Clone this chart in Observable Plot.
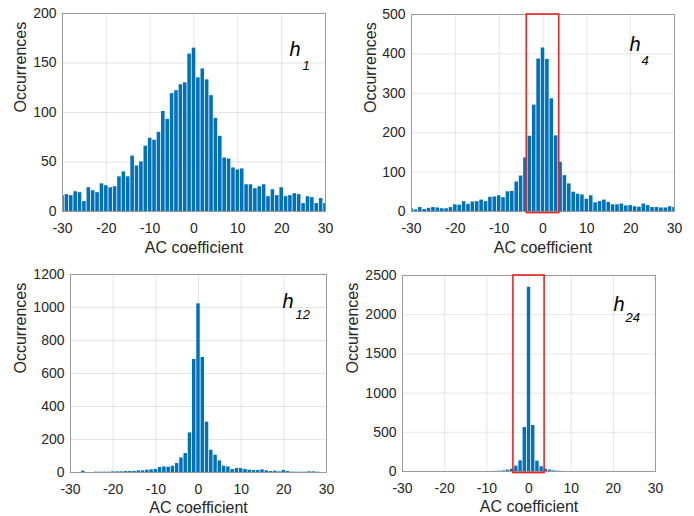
<!DOCTYPE html>
<html><head><meta charset="utf-8">
<script src="https://cdn.jsdelivr.net/npm/d3@7"></script>
<script src="https://cdn.jsdelivr.net/npm/@observablehq/plot@0.6"></script>
<style>
body{margin:0;background:#fff;}
#wrap{position:relative;width:694px;height:516px;overflow:hidden;background:#fff;}
.panel{position:absolute;}
</style></head><body><div id="wrap"></div>
<script>
// ---- data ----
const coefficients = [-30,-29,-28,-27,-26,-25,-24,-23,-22,-21,-20,-19,-18,-17,-16,-15,-14,-13,-12,-11,-10,-9,-8,-7,-6,-5,-4,-3,-2,-1,0,1,2,3,4,5,6,7,8,9,10,11,12,13,14,15,16,17,18,19,20,21,22,23,24,25,26,27,28,29,30];
const h1Counts = [16,17,16,20,19,10,24,21,19,28, 26,24,25,35,40,35,56,46,50,66, 74,72,80,101,93,119,122,128,130,159, 165, 135,144,133,117,94,76,54,53,44,42, 43,27,27,23,25,27,15,22,16,24, 15,16,18,17,8,15,14,8,13,8];
const h4Counts = [7,4,10,5,8,10,9,7,7,10, 17,16,25,18,24,25,29,25,36,37, 40,35,50,51,75,90,136,191,270,387, 415, 386,286,192,125,91,70,49,44,42,31, 40,22,25,29,23,17,17,19,14,15, 12,11,19,15,10,10,9,9,12,10];
const h12Counts = [0,0,0,8,0,0,2,2,2,2, 4,4,4,6,6,6,10,10,14,16, 18,30,34,32,38,55,88,115,240,685, 1022, 697,305,135,105,70,38,34,18,24,24, 18,14,12,12,16,10,6,8,4,12, 6,2,2,2,2,4,4,2,0,0];
const h24Counts = [0,0,0,0,0,0,0,0,0,0, 0,0,0,0,0,0,0,0,0,0, 0,1,2,4,8,17,30,68,136,561, 2350, 587,132,60,30,17,8,4,2,0,0, 0,0,0,0,0,0,0,0,0,0, 0,0,0,0,0,0,0,0,0,0];
const xTicks = [-30,-20,-10,0,10,20,30];
const yTicks1 = [0,50,100,150,200];
const yTicks4 = [0,100,200,300,400,500];
const yTicks12 = [0,200,400,600,800,1000,1200];
const yTicks24 = [0,500,1000,1500,2000,2500];
const highlightRange = [-3.7, 3.7];
const xLabel = "AC coefficient";
const yLabel = "Occurrences";

// ---- drawing ----
const FONT = "'Liberation Sans', Arial, Helvetica, sans-serif";
const BAR = "#0072BD";

function panel(counts, yTicks, name, sub, highlight, L) {
  const data = coefficients.map((c, i) => ({c, n: counts[i]}));
  const yMax = yTicks[yTicks.length - 1];
  const marks = [
    Plot.gridX(xTicks, {stroke: "#000", strokeOpacity: 0.1}),
    Plot.gridY(yTicks, {stroke: "#000", strokeOpacity: 0.1}),
    Plot.rectY(data.filter(d => d.n > 0), {x1: d => d.c - 0.5, x2: d => d.c + 0.5, y: "n", fill: BAR, insetLeft: 0.4, insetRight: 0.4, clip: true}),
    Plot.frame({stroke: "#9a9a9a"}),
    Plot.axisX(xTicks, {tickSize: 0, tickPadding: 12, fontSize: 14, fill: "#262626", tickFormat: d => String(d), label: null}),
    Plot.axisY(yTicks, {tickSize: 0, tickPadding: 6, fontSize: 14, fill: "#262626", tickFormat: d => String(d), label: null}),
    Plot.text([xLabel], {text: d => d, frameAnchor: "bottom", dy: L.xlab, fontSize: 16, fill: "#262626"}),
    Plot.text([yLabel], {text: d => d, frameAnchor: "left", dx: L.ylab, rotate: -90, fontSize: 16, fill: "#262626"}),
    Plot.text([name], {text: d => d, frameAnchor: "top-left", dx: L.hx, dy: L.hy, textAnchor: "start", lineAnchor: "top", fontSize: 20, fontStyle: "italic", fill: "#000"}),
    Plot.text([sub], {text: d => d, frameAnchor: "top-left", dx: L.sx, dy: L.sy, textAnchor: "start", lineAnchor: "top", fontSize: 13, fontStyle: "italic", fill: "#000"})
  ];
  if (highlight) {
    marks.push(Plot.rect([highlight], {x1: d => d[0], x2: d => d[1], y1: -yMax * 0.008, y2: yMax, stroke: "#ee2424", strokeWidth: 1.6, fill: "none"}));
  }
  const svg = Plot.plot({
    width: L.width, height: L.height,
    marginLeft: L.ml, marginRight: L.mr, marginTop: L.mt, marginBottom: L.mb,
    x: {domain: [-30, 30]},
    y: {domain: [0, yMax]},
    style: {fontFamily: FONT, fontSize: "14px", background: "transparent", color: "#262626", overflow: "visible"},
    marks
  });
  svg.classList.add("panel");
  svg.style.left = L.left + "px";
  svg.style.top = L.top + "px";
  document.getElementById("wrap").appendChild(svg);
}

panel(h1Counts, yTicks1, "h", "1", null,
  {left: 0, top: 0, width: 340, height: 258, ml: 62, mr: 15, mt: 13, mb: 47, xlab: 41, ylab: -42, hx: 227, hy: 28, sx: 240, sy: 47});
panel(h4Counts, yTicks4, "h", "4", highlightRange,
  {left: 340, top: 0, width: 354, height: 258, ml: 71, mr: 20, mt: 14, mb: 47, xlab: 41, ylab: -41, hx: 218, hy: 22, sx: 230, sy: 41});
panel(h12Counts, yTicks12, "h", "12", null,
  {left: 0, top: 258, width: 340, height: 258, ml: 70, mr: 14, mt: 16, mb: 44, xlab: 40, ylab: -50, hx: 212, hy: 19, sx: 225, sy: 35});
panel(h24Counts, yTicks24, "h", "24", highlightRange,
  {left: 340, top: 258, width: 354, height: 258, ml: 62, mr: 39, mt: 17, mb: 45, xlab: 40, ylab: -50, hx: 211, hy: 21, sx: 223, sy: 37});
</script></body></html>
